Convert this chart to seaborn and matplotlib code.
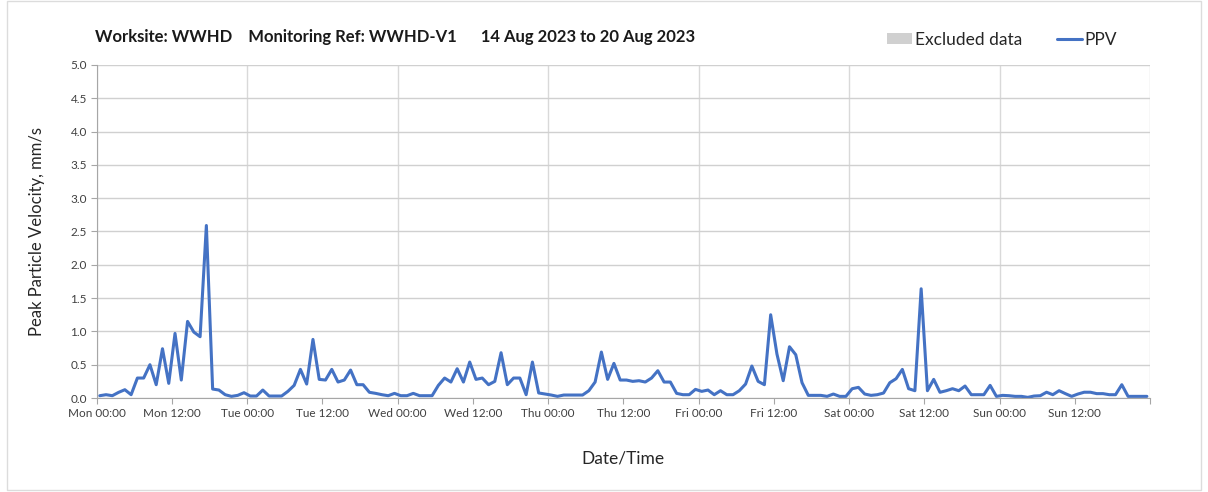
import pandas as pd
import matplotlib
matplotlib.use("Agg")
import matplotlib.pyplot as plt
import matplotlib.dates as mdates
import matplotlib.ticker as mticker
from matplotlib.patches import Patch, Rectangle
from matplotlib.lines import Line2D
import seaborn as sns

# hourly PPV readings, Mon 14 Aug 2023 to Sun 20 Aug 2023 (mm/s)
first_reading = "2023-08-14 00:30"
ppv = [
    0.035, 0.05, 0.035, 0.085, 0.125, 0.05, 0.30, 0.30, 0.50, 0.20,
    0.74, 0.22, 0.97, 0.27, 1.15, 0.99, 0.92, 2.59, 0.135, 0.12,
    0.05, 0.025, 0.04, 0.08, 0.03, 0.03, 0.12, 0.03, 0.03, 0.03,
    0.10, 0.19, 0.43, 0.21, 0.88, 0.28, 0.27, 0.43, 0.24, 0.27,
    0.42, 0.20, 0.20, 0.086, 0.07, 0.05, 0.035, 0.07, 0.035, 0.035,
    0.07, 0.035, 0.035, 0.035, 0.19, 0.30, 0.24, 0.44, 0.24, 0.54,
    0.28, 0.30, 0.20, 0.25, 0.68, 0.20, 0.30, 0.30, 0.05, 0.54,
    0.076, 0.06, 0.045, 0.025, 0.045, 0.045, 0.045, 0.045, 0.11, 0.24,
    0.69, 0.28, 0.52, 0.27, 0.27, 0.25, 0.26, 0.24, 0.30, 0.41,
    0.24, 0.24, 0.07, 0.05, 0.05, 0.13, 0.10, 0.12, 0.05, 0.11,
    0.05, 0.05, 0.11, 0.21, 0.48, 0.25, 0.20, 1.25, 0.66, 0.26,
    0.77, 0.65, 0.23, 0.04, 0.04, 0.04, 0.025, 0.06, 0.025, 0.025,
    0.14, 0.16, 0.06, 0.04, 0.05, 0.075, 0.23, 0.29, 0.43, 0.14,
    0.11, 1.64, 0.11, 0.28, 0.086, 0.11, 0.14, 0.11, 0.18, 0.05,
    0.05, 0.05, 0.19, 0.025, 0.04, 0.035, 0.025, 0.025, 0.01, 0.03,
    0.035, 0.087, 0.05, 0.11, 0.066, 0.025, 0.06, 0.087, 0.087, 0.066,
    0.066, 0.05, 0.05, 0.20, 0.025, 0.025, 0.025, 0.025,
]
period_start = "2023-08-14"
period_end = "2023-08-21"
title = "Worksite: WWHD    Monitoring Ref: WWHD-V1      14 Aug 2023 to 20 Aug 2023"

times = pd.date_range(first_reading, periods=len(ppv), freq="h")
df = pd.DataFrame({"time": times, "ppv": ppv})

sns.set_style("white")
plt.rcParams["font.family"] = ["Lato", "DejaVu Sans"]

blue = "#4472C4"
fig = plt.figure(figsize=(12.08, 4.92), dpi=100)
ax = fig.add_axes([0.080, 0.191, 0.872, 0.677])

sns.lineplot(data=df, x="time", y="ppv", color=blue, linewidth=2.2, ax=ax, legend=False)

ax.set_ylim(0, 5)
ax.set_xlim(pd.Timestamp(period_start), pd.Timestamp(period_end))
ax.yaxis.set_major_locator(mticker.MultipleLocator(0.5))
ax.yaxis.set_major_formatter(mticker.FormatStrFormatter("%.1f"))

end_num = mdates.date2num(pd.Timestamp(period_end))


def day_fmt(x, pos):
    if x >= end_num - 1e-6:
        return ""
    return mdates.num2date(x).strftime("%a %H:%M")


ax.xaxis.set_major_locator(mdates.DayLocator())
ax.xaxis.set_minor_locator(mdates.HourLocator(byhour=[12]))
ax.xaxis.set_major_formatter(mticker.FuncFormatter(day_fmt))
ax.xaxis.set_minor_formatter(mdates.DateFormatter("%a %H:%M"))

ax.tick_params(axis="both", which="both", direction="out", length=4, width=0.8,
               color="#a6a6a6", labelsize=8.5, labelcolor="#404040", pad=3)
ax.tick_params(axis="x", which="both", bottom=True)
ax.tick_params(axis="y", left=True)

ax.grid(axis="y", color="#d0d0d0", linewidth=1)
ax.grid(axis="x", which="major", color="#d9d9d9", linewidth=1)
ax.grid(axis="x", which="minor", visible=False)
for side in ["top", "right"]:
    ax.spines[side].set_visible(False)
for side in ["left", "bottom"]:
    ax.spines[side].set_color("#a6a6a6")

ax.set_xlabel("Date/Time", fontsize=12.5, labelpad=23, color="#262626")
ax.set_ylabel("Peak Particle Velocity, mm/s", fontsize=12, labelpad=18, color="#262626")

fig.text(95 / 1208, 1 - 37 / 492, title, fontsize=12, fontweight="bold",
         va="center", ha="left", color="#1a1a1a")

handles = [Patch(facecolor="#d0d0d0", edgecolor="none"),
           Line2D([], [], color=blue, linewidth=2.2)]
fig.legend(handles, ["Excluded data", "PPV"], loc="center",
           bbox_to_anchor=(1002 / 1208, 1 - 40 / 492), ncol=2, frameon=False,
           fontsize=12.5, handlelength=1.45, handleheight=0.6, handletextpad=0.15,
           columnspacing=2.0)

fig.patches.append(Rectangle((0.006, 0.004), 0.988, 0.994, transform=fig.transFigure,
                             fill=False, edgecolor="#dcdcdc", linewidth=1))

fig.savefig("out.png", dpi=100)
